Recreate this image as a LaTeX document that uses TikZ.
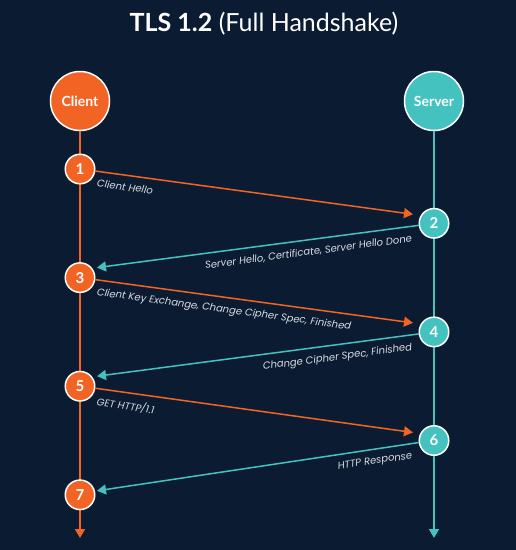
\documentclass[tikz,border=0pt]{standalone}
\usepackage{fontspec}
\setmainfont{Lato}
\newfontfamily\labfont{Poppins}
\usetikzlibrary{arrows.meta,calc}
\definecolor{bg}{HTML}{0B1C32}
\definecolor{org}{HTML}{F26424}
\definecolor{tea}{HTML}{44C2BF}
\definecolor{lbl}{HTML}{D8DDE3}
\begin{document}
\begin{tikzpicture}[x=1pt,y=-1pt,
  actor/.style={circle, draw=white, line width=1.5pt, minimum size=59pt, inner sep=0pt, text=white, font=\bfseries\fontsize{14}{16}\selectfont},
  stepnode/.style={circle, draw=white, line width=1.5pt, minimum size=29.5pt, inner sep=0pt, text=white, font=\bfseries\fontsize{15}{17}\selectfont},
  msg/.style={line width=1.5pt, -{Triangle[length=9pt,width=10pt]}},
  life/.style={line width=1.8pt, -{Triangle[length=9pt,width=10pt]}},
  lab/.style={text=lbl, font=\labfont\itshape\fontsize{10}{12}\selectfont, sloped, inner ysep=7pt},
  labl/.style={lab, pos=0, anchor=north west, inner xsep=3pt},
  labr/.style={lab, pos=0, anchor=north east, inner xsep=8pt}]
\fill[bg] (0,0) rectangle (516,550);
\useasboundingbox (0,0) rectangle (516,550);
\node[text=white, font=\fontsize{25}{30}\selectfont] (title) at (264,24) {\textbf{TLS 1.2} (Full Handshake)};
\node[actor, fill=org] (client) at (80,101) {Client};
\node[actor, fill=tea] (server) at (434,101) {Server};
\coordinate (cend) at (80,538);
\coordinate (send) at (434,538);
\draw[life, org] (client) -- (cend);
\draw[life, tea] (server) -- (send);
\node[stepnode, fill=org] (s1) at (80,169) {1};
\node[stepnode, fill=tea] (s2) at (434,223.3) {2};
\node[stepnode, fill=org] (s3) at (80,277.6) {3};
\node[stepnode, fill=tea] (s4) at (434,331.9) {4};
\node[stepnode, fill=org] (s5) at (80,386.2) {5};
\node[stepnode, fill=tea] (s6) at (434,440.5) {6};
\node[stepnode, fill=org] (s7) at (80,494.8) {7};
\draw[msg, org] ($(s1.center)+(15,2)$) -- ($(s2.center)+(-21,-9)$) node[labl] {Client Hello};
\draw[msg, tea] ($(s2.center)+(-15,2)$) -- ($(s3.center)+(17,-10)$) node[labr] {Server Hello, Certificate, Server Hello Done};
\draw[msg, org] ($(s3.center)+(15,2)$) -- ($(s4.center)+(-21,-9)$) node[labl] {Client Key Exchange, Change Cipher Spec, Finished};
\draw[msg, tea] ($(s4.center)+(-15,2)$) -- ($(s5.center)+(17,-10)$) node[labr] {Change Cipher Spec, Finished};
\draw[msg, org] ($(s5.center)+(15,2)$) -- ($(s6.center)+(-21,-8)$) node[labl] {GET HTTP/1.1};
\draw[msg, tea] ($(s6.center)+(-15,2)$) -- ($(s7.center)+(17,-4)$) node[labr] {HTTP Response};
\end{tikzpicture}
\end{document}
